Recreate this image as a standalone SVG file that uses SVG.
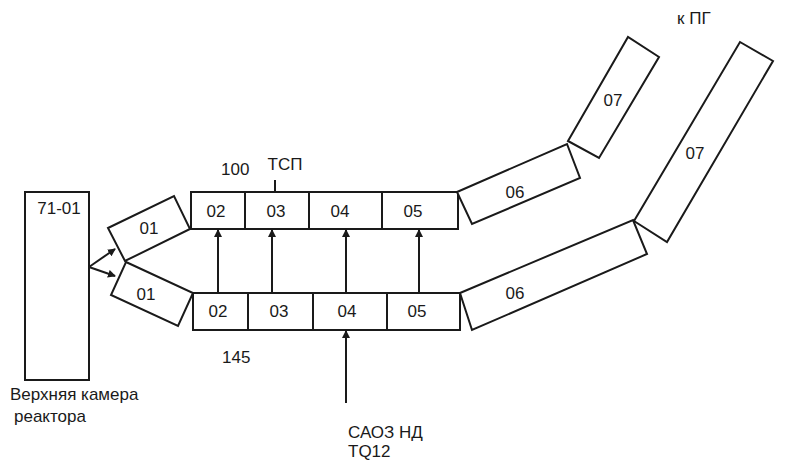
<svg xmlns="http://www.w3.org/2000/svg" width="787" height="461" viewBox="0 0 787 461">
<defs>
<marker id="ah" markerWidth="8" markerHeight="8" refX="7" refY="4" orient="auto" markerUnits="userSpaceOnUse">
<path d="M0,0 L8,4 L0,8 Z" fill="#1a1a1a"/>
</marker>
<style>
.b{fill:#fff;stroke:#1a1a1a;stroke-width:2;stroke-linejoin:miter}
.t{font-family:"Liberation Sans",Arial,sans-serif;font-size:17px;fill:#1a1a1a}
.c{text-anchor:middle}
.l{stroke:#1a1a1a;stroke-width:2;fill:none}
</style>
</defs>
<rect width="787" height="461" fill="#fff"/>
<g id="n7101"><rect class="b" x="25" y="192" width="64" height="188"/><text class="t c" x="59" y="214">71-01</text></g>
<g id="n01a"><polygon class="b" points="108,228 174,196 190,229 125,261"/><text class="t c" x="149" y="234">01</text></g>
<g id="n01b"><polygon class="b" points="126,262 193,293 178,326 111,295"/><text class="t c" x="146" y="300">01</text></g>
<g id="top02"><rect class="b" x="191" y="192" width="54" height="37"/><text class="t c" x="216" y="217">02</text></g>
<g id="top03"><rect class="b" x="245" y="192" width="64" height="37"/><text class="t c" x="276" y="217">03</text></g>
<g id="top04"><rect class="b" x="309" y="192" width="73" height="37"/><text class="t c" x="340" y="217">04</text></g>
<g id="top05"><rect class="b" x="382" y="192" width="76" height="37"/><text class="t c" x="413" y="217">05</text></g>
<g id="bot02"><rect class="b" x="193" y="293" width="55" height="37"/><text class="t c" x="218" y="317">02</text></g>
<g id="bot03"><rect class="b" x="248" y="293" width="65" height="37"/><text class="t c" x="279" y="317">03</text></g>
<g id="bot04"><rect class="b" x="313" y="293" width="74" height="37"/><text class="t c" x="347" y="317">04</text></g>
<g id="bot05"><rect class="b" x="387" y="293" width="73" height="37"/><text class="t c" x="417" y="317">05</text></g>
<g id="top06"><polygon class="b" points="457,192 567,144 580,178 472,224"/><text class="t c" x="515" y="198">06</text></g>
<g id="top07"><polygon class="b" points="568,141 628,37 659,57 599,158"/><text class="t c" x="613" y="106">07</text></g>
<g id="bot06"><polygon class="b" points="460,293 633,220 647,254 472,330"/><text class="t c" x="515" y="299">06</text></g>
<g id="bot07"><polygon class="b" points="634,221 740,42 773,61 667,242"/><text class="t c" x="695" y="159">07</text></g>
<g id="connectors">
<line class="l" x1="89" y1="267" x2="115" y2="249" marker-end="url(#ah)"/>
<line class="l" x1="89" y1="267" x2="115" y2="276" marker-end="url(#ah)"/>
<line class="l" x1="218" y1="293" x2="218" y2="230" marker-end="url(#ah)"/>
<line class="l" x1="272" y1="293" x2="272" y2="230" marker-end="url(#ah)"/>
<line class="l" x1="346" y1="293" x2="346" y2="230" marker-end="url(#ah)"/>
<line class="l" x1="419" y1="293" x2="419" y2="230" marker-end="url(#ah)"/>
<line class="l" x1="346" y1="403" x2="346" y2="331" marker-end="url(#ah)"/>
<line class="l" x1="275" y1="180" x2="275" y2="192"/>
</g>
<g id="labels">
<text class="t" x="221" y="175">100</text>
<text class="t c" x="285" y="170">ТСП</text>
<text class="t" x="222" y="363">145</text>
<text class="t" x="677" y="24">к ПГ</text>
<text class="t" x="10" y="400">Верхняя камера</text>
<text class="t" x="14" y="422">реактора</text>
<text class="t" x="348" y="438">САОЗ НД</text>
<text class="t" x="348" y="457">TQ12</text>
</g>
</svg>
